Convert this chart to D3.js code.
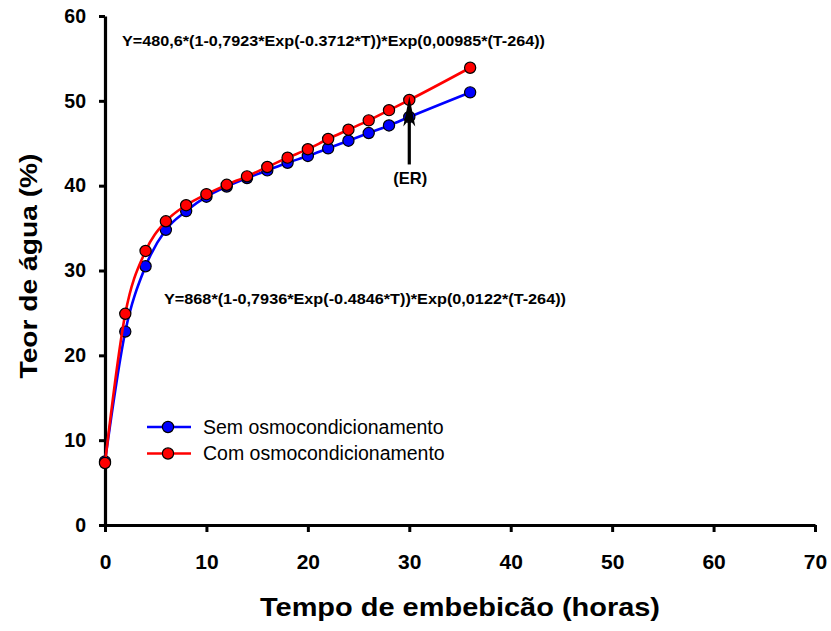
<!DOCTYPE html>
<html>
<head>
<meta charset="utf-8">
<script src="https://cdn.jsdelivr.net/npm/d3@7"></script>
<style>
  html, body { margin: 0; padding: 0; background: #fff; }
  svg { display: block; }
  text { font-family: "Liberation Sans", Arial, sans-serif; }
</style>
</head>
<body>
<svg id="chart" width="831" height="631"></svg>
<script>
// ---- data ----
const times = [0, 2, 4, 6, 8, 10, 12, 14, 16, 18, 20, 22, 24, 26, 28, 30, 36];
const semOsmo = [7.5, 22.8, 30.5, 34.8, 37.0, 38.7, 39.9, 40.9, 41.8, 42.7, 43.5, 44.4, 45.3, 46.2, 47.1, 48.1, 51.0];
const comOsmo = [7.3, 24.9, 32.3, 35.8, 37.7, 39.0, 40.1, 41.1, 42.2, 43.3, 44.3, 45.5, 46.6, 47.7, 48.9, 50.1, 53.9];
const seriesNames = ["Sem osmocondicionamento", "Com osmocondicionamento"];
const xTicks = [0, 10, 20, 30, 40, 50, 60, 70];
const yTicks = [0, 10, 20, 30, 40, 50, 60];
const eq1 = "Y=480,6*(1-0,7923*Exp(-0.3712*T))*Exp(0,00985*(T-264))";
const eq2 = "Y=868*(1-0,7936*Exp(-0.4846*T))*Exp(0,0122*(T-264))";
const arrowLabel = "(ER)";
const arrowAt = 30;          // hours
const arrowFrom = 42.5;      // % (base of arrow)
const arrowTo = 50.5;        // % (tip of arrow)

// ---- layout ----
const svg = d3.select("#chart");
const x = d3.scaleLinear().domain([0, 70]).range([105, 815]);
const y = d3.scaleLinear().domain([0, 60]).range([525, 16]);

// axes
const gx = svg.append("g").attr("transform", `translate(0,${y(0)})`)
  .call(d3.axisBottom(x).tickValues(xTicks).tickSize(7).tickSizeOuter(0).tickPadding(22));
const gy = svg.append("g").attr("transform", `translate(${x(0)},0)`)
  .call(d3.axisLeft(y).tickValues(yTicks).tickSize(6).tickSizeOuter(0).tickPadding(13));
[gx, gy].forEach(g => {
  g.select(".domain").attr("stroke", "#000").attr("stroke-width", 3.2);
  g.selectAll(".tick line").attr("stroke", "#000").attr("stroke-width", 3);
  g.selectAll(".tick text").attr("fill", "#000").attr("font-weight", "bold")
    .attr("font-family", "'Liberation Sans', Arial, sans-serif");
});
gx.selectAll(".tick text").attr("font-size", 21);
gy.selectAll(".tick text").attr("font-size", 19.5);

// axis titles
svg.append("text").attr("x", 460).attr("y", 616).attr("text-anchor", "middle")
  .attr("font-size", 26).attr("font-weight", "bold")
  .attr("textLength", 400).attr("lengthAdjust", "spacingAndGlyphs")
  .text("Tempo de embebicão (horas)");
svg.append("text").attr("transform", "translate(37,266) rotate(-90)")
  .attr("text-anchor", "middle")
  .attr("font-size", 24).attr("font-weight", "bold")
  .attr("textLength", 225).attr("lengthAdjust", "spacingAndGlyphs")
  .text("Teor de água (%)");

// series
const colors = ["#0000ff", "#ff0000"];
const allSeries = [semOsmo, comOsmo];
const line = d3.line().x(d => x(d[0])).y(d => y(d[1])).curve(d3.curveMonotoneX);
allSeries.forEach((vals, i) => {
  const pts = times.map((t, j) => [t, vals[j]]);
  const g = svg.append("g");
  g.append("path").datum(pts).attr("d", line)
    .attr("fill", "none").attr("stroke", colors[i]).attr("stroke-width", 2.6);
  g.selectAll("circle").data(pts).join("circle")
    .attr("cx", d => x(d[0])).attr("cy", d => y(d[1])).attr("r", 5.6)
    .attr("fill", colors[i]).attr("stroke", "#000").attr("stroke-width", 1.2);
});

// equations
svg.append("text").attr("x", 122).attr("y", 46)
  .attr("font-size", 15.5).attr("font-weight", "bold")
  .attr("textLength", 423).attr("lengthAdjust", "spacingAndGlyphs").text(eq1);
svg.append("text").attr("x", 164).attr("y", 304)
  .attr("font-size", 15.5).attr("font-weight", "bold")
  .attr("textLength", 402).attr("lengthAdjust", "spacingAndGlyphs").text(eq2);

// arrow annotation
const ax = x(arrowAt), ay0 = y(arrowFrom), ay1 = y(arrowTo);
svg.append("line").attr("x1", ax).attr("x2", ax).attr("y1", ay0).attr("y2", ay1 + 12)
  .attr("stroke", "#000").attr("stroke-width", 3.2);
svg.append("path")
  .attr("d", `M${ax},${ay1} L${ax + 6},${ay1 + 30} L${ax},${ay1 + 23} L${ax - 6},${ay1 + 30} Z`)
  .attr("fill", "#000");
svg.append("text").attr("x", ax + 1).attr("y", ay0 + 20).attr("text-anchor", "middle")
  .attr("font-size", 16.5).attr("font-weight", "bold").text(arrowLabel);

// legend
const legend = svg.append("g");
seriesNames.forEach((name, i) => {
  const ly = 427 + i * 26.5;
  legend.append("line").attr("x1", 147).attr("x2", 191).attr("y1", ly).attr("y2", ly)
    .attr("stroke", colors[i]).attr("stroke-width", 2.6);
  legend.append("circle").attr("cx", 168).attr("cy", ly).attr("r", 5.6)
    .attr("fill", colors[i]).attr("stroke", "#000").attr("stroke-width", 1.2);
  legend.append("text").attr("x", 203).attr("y", ly).attr("dy", "0.35em")
    .attr("font-size", 19.5).text(name);
});
</script>
</body>
</html>
